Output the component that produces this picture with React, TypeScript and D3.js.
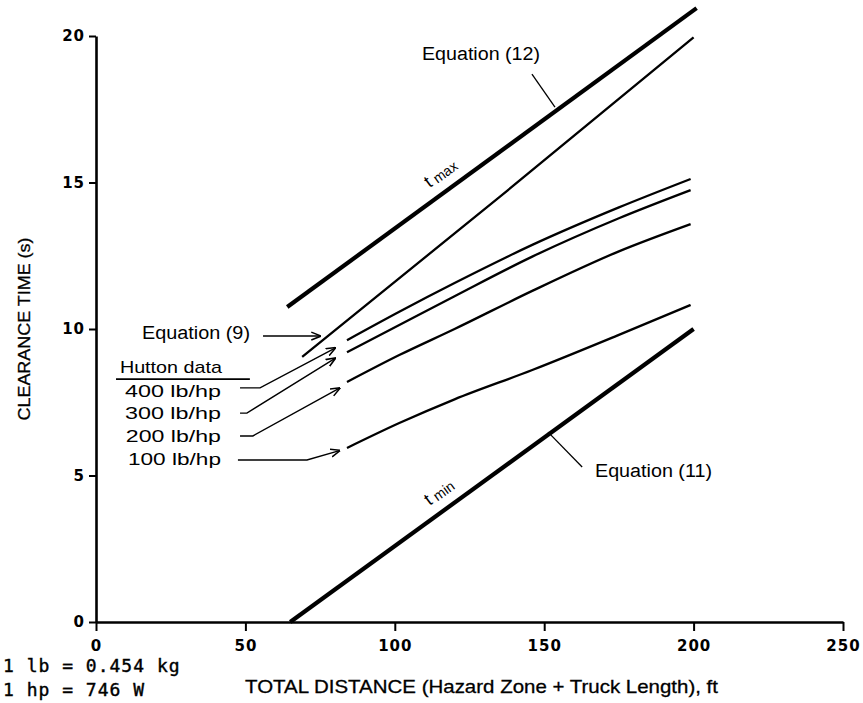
import React, { useEffect, useRef } from "react";
import * as d3 from "d3";

// chart values, [distance ft, clearance time s]
const xTicks = [0, 50, 100, 150, 200, 250];
const yTicks = [0, 5, 10, 15, 20];

const tMax = [[64, 10.75], [201, 20.95]]; // Equation (12)
const tMin = [[65, 0], [200, 10]]; // Equation (11)
const equation9 = [[69, 9.05], [135, 14.5], [200, 19.95]];

const hutton400 = [[84, 9.62], [101.5, 10.59], [120, 11.57], [146, 12.87], [175, 14.15], [199, 15.12]];
const hutton300 = [[84, 9.21], [101.5, 10.14], [120, 11.12], [146, 12.47], [175, 13.78], [199, 14.74]];
const hutton200 = [[84, 8.19], [101.5, 9.11], [120, 10.0], [146, 11.3], [175, 12.65], [199, 13.58]];
const hutton100 = [[84, 5.94], [101.5, 6.79], [120, 7.6], [146, 8.6], [175, 9.8], [199, 10.82]];

const huttonLabels = ["400 lb/hp", "300 lb/hp", "200 lb/hp", "100 lb/hp"];
const huttonLabelPos = [[9.7, 7.68], [9.7, 6.93], [10, 6.14], [10.7, 5.36]];
const huttonLabelLen = [96, 96, 95, 93];
const huttonLeaders = [
  [[48.2, 7.99], [54.9, 7.99], [80, 9.35]],
  [[48.2, 7.13], [50.5, 7.13], [80, 9.0]],
  [[48.2, 6.35], [52.5, 6.35], [81.5, 7.98]],
  [[47.5, 5.53], [70.6, 5.53], [81.5, 5.85]],
];
const huttonUnderline = [[6.7, 8.29], [51.5, 8.29]];

const eq12Leader = [[145.9, 18.7], [153.6, 17.57]];
const eq11Leader = [[151.3, 6.48], [162.7, 5.29]];
const eq9Arrow = [[55.9, 9.76], [75, 9.76]];

const notes = ["1 lb = 0.454 kg", "1 hp = 746 W"];

const width = 863;
const height = 703;

const App = () => {
  const xAxisRef = useRef<SVGGElement>(null);
  const yAxisRef = useRef<SVGGElement>(null);

  const x = d3.scaleLinear().domain([0, 250]).range([96, 843]);
  const y = d3.scaleLinear().domain([0, 20]).range([622, 36]);

  const curve = d3
    .line<number[]>()
    .x((d) => x(d[0]))
    .y((d) => y(d[1]))
    .curve(d3.curveMonotoneX);
  const straight = d3
    .line<number[]>()
    .x((d) => x(d[0]))
    .y((d) => y(d[1]));

  useEffect(() => {
    const gx = d3.select(xAxisRef.current);
    gx.call(d3.axisBottom(x).tickValues(xTicks).tickSize(9).tickSizeOuter(0).tickPadding(9));
    const gy = d3.select(yAxisRef.current);
    gy.call(d3.axisLeft(y).tickValues(yTicks).tickSize(7).tickSizeOuter(0).tickPadding(4));
    [gx, gy].forEach((g) => {
      g.attr("font-family", "DejaVu Sans").attr("font-size", 15);
      g.select(".domain").attr("stroke-width", 2.6);
      g.selectAll(".tick line").attr("stroke-width", 2);
      g.selectAll(".tick text")
        .attr("font-weight", "bold")
        .attr("letter-spacing", 1);
    });
  }, []);

  const angle = (pts: number[][]) =>
    (Math.atan2(y(pts[1][1]) - y(pts[0][1]), x(pts[1][0]) - x(pts[0][0])) * 180) / Math.PI;
  const along = (pts: number[][], xv: number) =>
    pts[0][1] + ((xv - pts[0][0]) * (pts[1][1] - pts[0][1])) / (pts[1][0] - pts[0][0]);

  const textStyle = { fontFamily: "Liberation Sans, Arial, sans-serif" };

  return (
    <svg
      width={width}
      height={height}
      style={{ position: "absolute", left: 0, top: 0, background: "#fff" }}
    >
      <defs>
        <marker id="arr" viewBox="0 0 10 10" refX="9" refY="5" markerWidth="7" markerHeight="7" orient="auto">
          <path d="M0,1 L10,5 L0,9" fill="none" stroke="#000" strokeWidth="1.6" />
        </marker>
      </defs>

      <g ref={xAxisRef} transform={`translate(0,${y(0)})`} />
      <g ref={yAxisRef} transform={`translate(${x(0)},0)`} />

      {/* heavy bounds */}
      <path d={straight(tMax) || ""} fill="none" stroke="#000" strokeWidth={4.2} />
      <path d={straight(tMin) || ""} fill="none" stroke="#000" strokeWidth={4.2} />

      {/* thin curves */}
      <path d={curve(equation9) || ""} fill="none" stroke="#000" strokeWidth={2.3} />
      {[hutton400, hutton300, hutton200, hutton100].map((c, i) => (
        <path key={i} d={curve(c) || ""} fill="none" stroke="#000" strokeWidth={2.3} />
      ))}

      {/* leaders */}
      {huttonLeaders.map((l, i) => (
        <path key={i} d={straight(l) || ""} fill="none" stroke="#000" strokeWidth={1.4} markerEnd="url(#arr)" />
      ))}
      <path d={straight(eq9Arrow) || ""} fill="none" stroke="#000" strokeWidth={1.4} markerEnd="url(#arr)" />
      <path d={straight(eq12Leader) || ""} fill="none" stroke="#000" strokeWidth={1.3} />
      <path d={straight(eq11Leader) || ""} fill="none" stroke="#000" strokeWidth={1.3} />
      <path d={straight(huttonUnderline) || ""} fill="none" stroke="#000" strokeWidth={1.6} />

      {/* labels */}
      <g style={textStyle} fill="#000">
        <text x={x(109.1)} y={y(19.18)} fontSize={18} textLength={118} lengthAdjust="spacingAndGlyphs">
          Equation (12)
        </text>
        <text x={x(167)} y={y(4.95)} fontSize={18} textLength={117} lengthAdjust="spacingAndGlyphs">
          Equation (11)
        </text>
        <text x={x(15.4)} y={y(9.66)} fontSize={18} textLength={108} lengthAdjust="spacingAndGlyphs">
          Equation (9)
        </text>
        <text x={x(8)} y={y(8.5)} fontSize={17} textLength={102} lengthAdjust="spacingAndGlyphs">
          Hutton data
        </text>
        {huttonLabels.map((t, i) => (
          <text
            key={t}
            x={x(huttonLabelPos[i][0])}
            y={y(huttonLabelPos[i][1])}
            fontSize={17}
            textLength={huttonLabelLen[i]}
            lengthAdjust="spacingAndGlyphs"
          >
            {t}
          </text>
        ))}

        <g transform={`translate(${x(114)},${y(along(tMax, 114))}) rotate(${angle(tMax)})`}>
          <text x={0} y={-12} fontSize={18}>
            t<tspan fontSize={14} dx={4} dy={1}>max</tspan>
          </text>
        </g>
        <g transform={`translate(${x(114)},${y(along(tMin, 114))}) rotate(${angle(tMin)})`}>
          <text x={0} y={-12} fontSize={18}>
            t<tspan fontSize={14} dx={4} dy={1}>min</tspan>
          </text>
        </g>

        <text
          x={(x(0) + x(250)) / 2 + 12}
          y={y(0) + 71}
          fontSize={19}
          textAnchor="middle"
          textLength={473}
          lengthAdjust="spacingAndGlyphs"
          stroke="#000"
          strokeWidth={0.3}
        >
          TOTAL DISTANCE (Hazard Zone + Truck Length), ft
        </text>
        <text
          transform={`translate(24,${(y(0) + y(20)) / 2 + 0}) rotate(-90)`}
          fontSize={17}
          textAnchor="middle"
          textLength={183}
          lengthAdjust="spacingAndGlyphs"
          stroke="#000"
          strokeWidth={0.3}
          dy="0.35em"
        >
          CLEARANCE TIME (s)
        </text>
      </g>

      {/* unit notes at the bottom-left corner */}
      <g fontFamily="DejaVu Sans Mono, monospace" fontSize={18} letterSpacing={1} stroke="#000" strokeWidth={0.4}>
        {notes.map((n, i) => (
          <text key={n} x={3} y={672 + i * 24} xmlSpace="preserve">
            {n}
          </text>
        ))}
      </g>
    </svg>
  );
};

export default App;
